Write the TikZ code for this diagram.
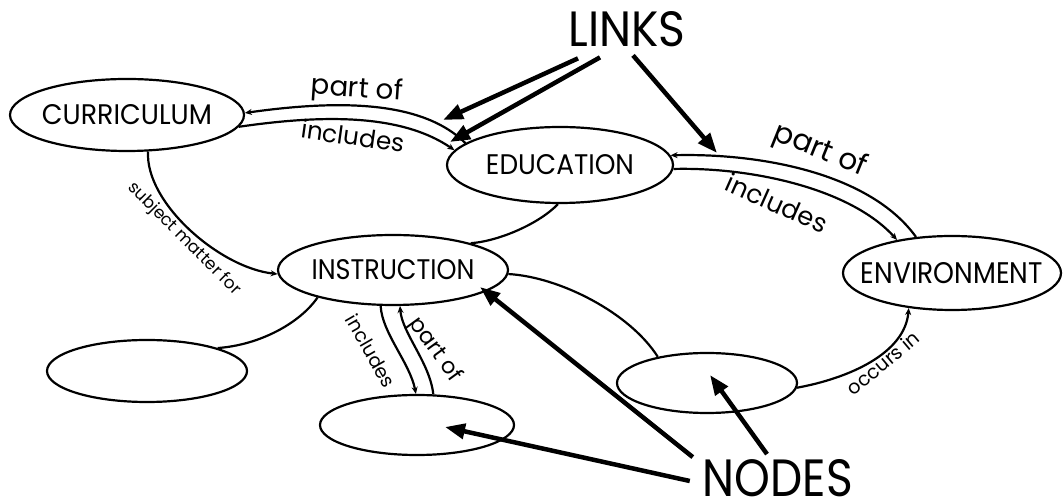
\documentclass[tikz,border=0pt]{standalone}
\usepackage{fontspec}
\setmainfont{Poppins}
\usetikzlibrary{arrows.meta,shapes.geometric,calc}
% scale a word to a given width and height (in pt)
\newcommand{\fitto}[3]{\resizebox{#1pt}{#2pt}{#3}}
% scale a phrase to a given width (in pt), keeping its proportions
\newcommand{\spanto}[2]{\resizebox{#1pt}{!}{#2}}
\begin{document}
\begin{tikzpicture}[x=1pt,y=1pt,
  concept/.style={ellipse,draw,line width=2.2pt,inner sep=0pt},
  wire/.style={line width=2.2pt},
  tip/.style={-{Stealth[length=7pt,width=6pt]}},
  pointer/.style={line width=4.5pt,-{Triangle[length=20pt,width=15pt]}},
  lbl/.style={font=\fontsize{17}{17}\selectfont,inner sep=0pt},
  big/.style={inner sep=0pt}]
\useasboundingbox (0,0) rectangle (1063,503);

% concepts
\node[concept,minimum width=234,minimum height=72,label={center:\fitto{170}{20}{CURRICULUM}}] (cur) at (127,388) {};
\node[concept,minimum width=226,minimum height=76,label={center:\fitto{148}{20}{EDUCATION}}] (edu) at (560,338) {};
\node[concept,minimum width=218,minimum height=74,label={center:\fitto{182}{21}{ENVIRONMENT}}] (env) at (952,230) {};
\node[concept,minimum width=230,minimum height=70,label={center:\fitto{163}{20}{INSTRUCTION}}] (ins) at (393,233) {};
\node[concept,minimum width=200,minimum height=62] (lft) at (147,132) {};
\node[concept,minimum width=194,minimum height=60] (bot) at (417,78) {};
\node[concept,minimum width=180,minimum height=60] (rgt) at (707,120) {};

% curriculum -- education
\draw[wire,tip] (edu.167) .. controls (420,405) and (330,402) .. (cur.1);
\draw[wire,tip] (cur.-6) .. controls (320,388) and (400,390) .. (edu.172);
\node[lbl,rotate=-4] (po1) at (357,413) {\spanto{92}{part of}};
\node[lbl,rotate=-8] (in1) at (353,367) {\spanto{104}{includes}};

% education -- environment
\draw[wire,tip] (env.135) .. controls (870,330) and (760,350) .. (edu.5);
\draw[wire,tip] (edu.-2) .. controls (750,336) and (850,315) .. (env.149);
\node[lbl,rotate=-22] (po2) at (820,352) {\spanto{98}{part of}};
\node[lbl,rotate=-24] (in2) at (777,300) {\spanto{108}{includes}};

% curriculum -- instruction
\draw[wire,tip] (cur.-60) .. controls (145,300) and (220,235) .. (ins.182);
\node[lbl,rotate=-45] (sm) at (184,264) {\spanto{152}{subject matter for}};

% other single links
\draw[wire] (edu.-93) .. controls (540,280) and (500,262) .. (ins.19);
\draw[wire] (ins.-160) .. controls (300,180) and (260,158) .. (lft.18);
\draw[wire] (ins.-2) .. controls (560,226) and (630,190) .. (rgt.152);
\draw[wire,tip] (rgt.-3) .. controls (850,125) and (905,150) .. (env.-141);
\node[lbl,rotate=40] (oc) at (883,140) {\spanto{88}{occurs in}};

% instruction -- lower concept
\draw[wire,tip] (ins.-109) .. controls (382,170) and (410,140) .. (bot.92);
\draw[wire,tip] (bot.62) .. controls (430,140) and (402,170) .. (ins.-79);
\node[lbl,rotate=-60] (in3) at (371,152) {\spanto{80}{includes}};
\node[lbl,rotate=-54] (po3) at (435,153) {\spanto{74}{part of}};

% callouts
\node[big] (links) at (627,473.5) {\fitto{117}{35}{LINKS}};
\node[big] (nodes) at (778,25) {\fitto{150}{37}{NODES}};
\coordinate (pl1) at (443,383);
\coordinate (pl2) at (450,361);
\coordinate (pl3) at (717,350);
\coordinate (pn1) at (480,216);
\coordinate (pn2) at (710,128);
\coordinate (pn3) at (445,76);
\draw[pointer] ([shift={(-49,-11)}]links.south) -- (pl1);
\draw[pointer] ([shift={(-27,-10)}]links.south) -- (pl2);
\draw[pointer] ([shift={(6,-8)}]links.south) -- (pl3);
\draw[pointer] ([shift={(-10,2)}]nodes.north west) -- (pn1);
\draw[pointer] ([shift={(-11,5)}]nodes.north) -- (pn2);
\draw[pointer] ([shift={(-13,-3)}]nodes.west) -- (pn3);
\end{tikzpicture}
\end{document}
